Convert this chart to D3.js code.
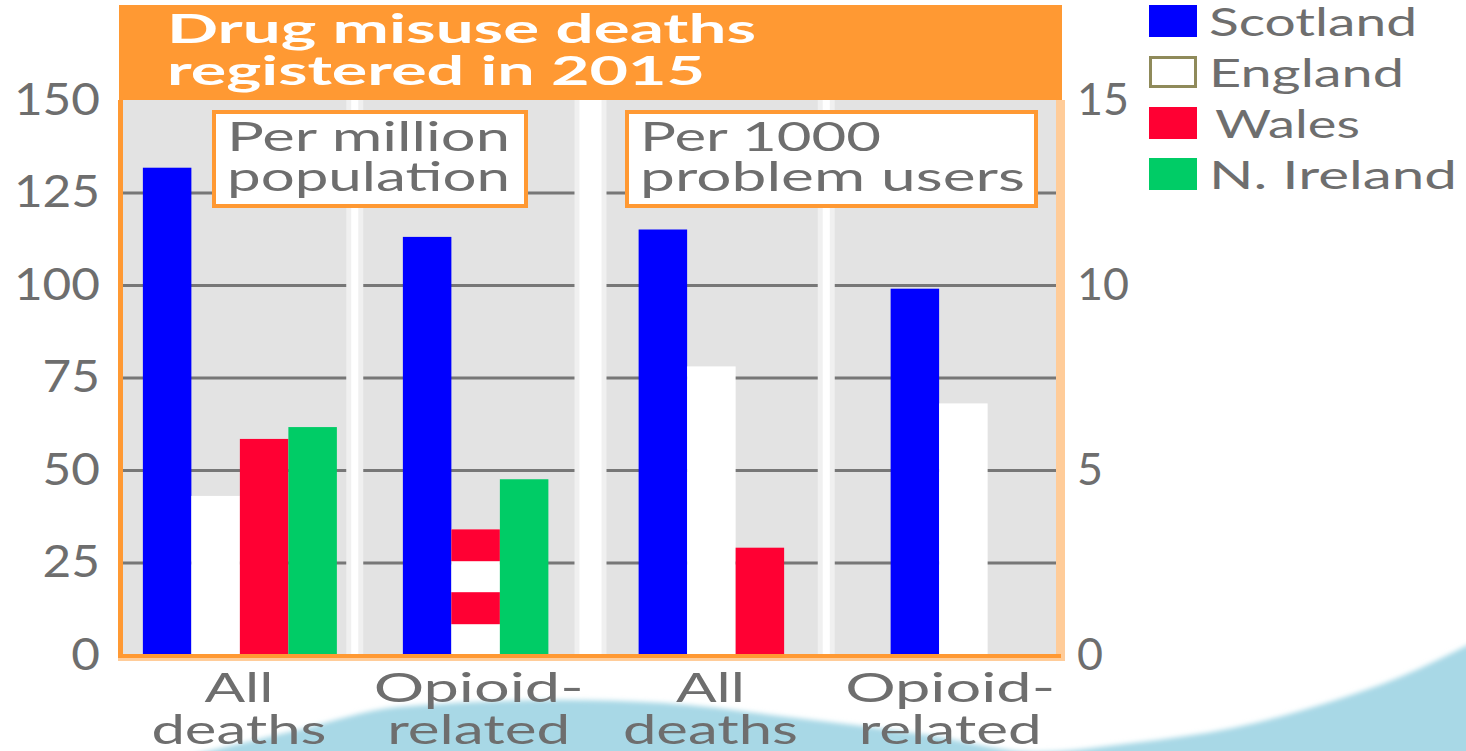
<!DOCTYPE html>
<html>
<head>
<meta charset="utf-8">
<script src="https://cdn.jsdelivr.net/npm/d3@7"></script>
<style>
  html, body { margin: 0; padding: 0; background: #fff; }
  svg { display: block; font-family: Lato, "Open Sans", sans-serif; }
</style>
</head>
<body>
<div id="chart"></div>
<script>
// chart data
var categories = ["All deaths", "Opioid-related", "All deaths", "Opioid-related"];
var categoryUnit = ["million", "million", "users", "users"];   // which y axis the group uses
var countries = ["Scotland", "England", "Wales", "N. Ireland"];
var scotland = [131.7, 113, 11.5, 9.9];
var england = [43, 34, 7.8, 6.8];
var wales = [58.4, 34, 2.9, null];
var nIreland = [61.6, 47.5, null, null];
var englandWalesJoint = [false, true, false, false];   // one striped bar for England & Wales
var leftTicks = [0, 25, 50, 75, 100, 125, 150];
var rightTicks = [0, 5, 10, 15];
var gridTicks = [25, 50, 75, 100, 125];

var countryColors = ["#0000ff", "#ffffff", "#ff0033", "#00cc66"];
var orange = "#ff9933", grey = "#6e6e6e";

var W = 1466, H = 751;
var plot = {left: 119, right: 1062, top: 100, bottom: 655};
var barW = 48.5;

var svg = d3.select("#chart").append("svg")
  .attr("width", W).attr("height", H);

var defs = svg.append("defs");
defs.append("filter").attr("id", "soft")
  .attr("x", "-5%").attr("y", "-20%").attr("width", "110%").attr("height", "140%")
  .append("feGaussianBlur").attr("stdDeviation", 2.5);

// blue wave behind the lower labels (background decoration)
var waveTop = [[170, 760], [298, 730], [398, 707], [564, 700], [663, 703], [796, 718], [928, 735],
  [1035, 752], [1133, 743], [1233, 728], [1333, 701], [1400, 677], [1472, 643]];
svg.append("path")
  .attr("d", d3.area().x(function (d) { return d[0]; }).y0(H + 20)
    .y1(function (d) { return d[1]; }).curve(d3.curveMonotoneX)(waveTop))
  .attr("fill", "#a8d8e6")
  .attr("filter", "url(#soft)");

// scales
var yLeft = d3.scaleLinear().domain([0, 150]).range([plot.bottom, plot.top]);
var yRight = d3.scaleLinear().domain([0, 15]).range([plot.bottom, plot.top]);
var x0 = d3.scaleBand().domain(d3.range(categories.length)).range([plot.left, plot.right]);

// header
svg.append("rect")
  .attr("x", plot.left).attr("y", 5)
  .attr("width", plot.right - plot.left).attr("height", plot.top - 5)
  .attr("fill", orange);

svg.append("text").attr("x", 167).attr("y", 43)
  .attr("textLength", 589).attr("lengthAdjust", "spacingAndGlyphs")
  .style("font-size", "40px").style("font-weight", "bold").attr("fill", "#fff")
  .text("Drug misuse deaths");
svg.append("text").attr("x", 167).attr("y", 85)
  .attr("textLength", 538).attr("lengthAdjust", "spacingAndGlyphs")
  .style("font-size", "40px").style("font-weight", "bold").attr("fill", "#fff")
  .text("registered in 2015");

// plot background
svg.append("rect")
  .attr("x", plot.left + 4).attr("y", plot.top)
  .attr("width", plot.right - plot.left - 10).attr("height", plot.bottom - plot.top)
  .attr("fill", "#e3e3e3");

// gridlines
var grid = svg.append("g")
  .attr("transform", "translate(" + (plot.left + 4) + ",0)")
  .call(d3.axisRight(yLeft).tickValues(gridTicks).tickSize(plot.right - plot.left - 10).tickFormat(""));
grid.select(".domain").remove();
grid.selectAll("line").attr("stroke", "#777").attr("stroke-width", 3);

// white separators between the groups
for (var i = 1; i < categories.length; i++) {
  var sx = x0(i);
  var thick = categoryUnit[i] !== categoryUnit[i - 1];
  var ww = thick ? 22 : 7;
  svg.append("rect").attr("x", sx - ww / 2 - 5).attr("y", plot.top)
    .attr("width", ww + 10).attr("height", plot.bottom - plot.top).attr("fill", "#f0f0f0");
  svg.append("rect").attr("x", sx - ww / 2).attr("y", plot.top)
    .attr("width", ww).attr("height", plot.bottom - plot.top).attr("fill", "#fff");
}

// bars
var series = [scotland, england, wales, nIreland];
categories.forEach(function (cat, gi) {
  var y = categoryUnit[gi] === "million" ? yLeft : yRight;
  var bars = [];
  series.forEach(function (s, si) {
    if (s[gi] == null) return;
    if (si === 2 && englandWalesJoint[gi]) return;
    bars.push({si: si, v: s[gi], joint: si === 1 && englandWalesJoint[gi]});
  });
  var x1 = d3.scaleBand().domain(d3.range(bars.length)).range([0, bars.length * barW]);
  var start = x0(gi) + (x0.bandwidth() - bars.length * barW) / 2 + (gi === 3 ? -5 : 3);

  bars.forEach(function (b, k) {
    var fill = countryColors[b.si];
    if (b.joint) {
      var pid = "stripes" + gi;
      var pat = defs.append("pattern").attr("id", pid)
        .attr("patternUnits", "userSpaceOnUse")
        .attr("x", 0).attr("y", y(b.v))
        .attr("width", 20).attr("height", 63);
      pat.append("rect").attr("width", 20).attr("height", 63).attr("fill", countryColors[1]);
      pat.append("rect").attr("width", 20).attr("height", 32).attr("fill", countryColors[2]);
      fill = "url(#" + pid + ")";
    }
    svg.append("rect")
      .attr("class", "bar")
      .attr("x", start + x1(k))
      .attr("y", y(b.v))
      .attr("width", x1.bandwidth())
      .attr("height", plot.bottom - y(b.v))
      .attr("fill", fill);
  });
});

// plot borders
svg.append("rect").attr("x", plot.left - 1).attr("y", plot.top)
  .attr("width", 5).attr("height", plot.bottom - plot.top + 3).attr("fill", orange);
svg.append("rect").attr("x", plot.right - 6).attr("y", plot.top)
  .attr("width", 9).attr("height", plot.bottom - plot.top + 6).attr("fill", "#ffcc99");
svg.append("rect").attr("x", plot.left - 1).attr("y", plot.bottom + 3)
  .attr("width", plot.right - plot.left + 4).attr("height", 3).attr("fill", "#ffcc99");
svg.append("rect").attr("x", plot.left - 1).attr("y", plot.bottom - 1)
  .attr("width", plot.right - plot.left).attr("height", 4).attr("fill", orange);

// unit boxes
var boxes = [
  {x: 212, w: 316, lines: ["Per million", "population"], lens: [283, 283]},
  {x: 625, w: 413, lines: ["Per 1000", "problem users"], lens: [241, 385]}
];
boxes.forEach(function (b) {
  svg.append("rect").attr("x", b.x + 2).attr("y", 112)
    .attr("width", b.w - 4).attr("height", 94)
    .attr("fill", "#fff").attr("stroke", orange).attr("stroke-width", 4);
  b.lines.forEach(function (t, li) {
    svg.append("text").attr("x", b.x + 15).attr("y", 151 + li * 40)
      .attr("textLength", b.lens[li]).attr("lengthAdjust", "spacingAndGlyphs")
      .style("font-size", "41px").attr("fill", grey)
      .text(t);
  });
});

// y axes
function styleAxis(g, perDigit) {
  g.select(".domain").remove();
  g.selectAll("line").remove();
  g.selectAll("text")
    .style("font-size", "44px").style("font-family", "Lato, sans-serif")
    .attr("fill", grey)
    .attr("textLength", function (d) { return String(d).length * perDigit; })
    .attr("lengthAdjust", "spacingAndGlyphs");
}
svg.append("g").attr("transform", "translate(100,0)")
  .call(d3.axisLeft(yLeft).tickValues(leftTicks).tickSize(0).tickPadding(0))
  .call(styleAxis, 28.7);
svg.append("g").attr("transform", "translate(1077,0)")
  .call(d3.axisRight(yRight).tickValues(rightTicks).tickSize(0).tickPadding(0))
  .call(styleAxis, 26);

// category labels
var labelLines = {"All deaths": ["All", "deaths"], "Opioid-related": ["Opioid-", "related"]};
var labelLens = {"All": 69, "deaths": 175, "Opioid-": 210, "related": 183};
categories.forEach(function (cat, gi) {
  var cx = x0(gi) + x0.bandwidth() / 2 + (cat === "Opioid-related" ? 6 : 2);
  labelLines[cat].forEach(function (t, li) {
    svg.append("text").attr("x", cx).attr("y", 702 + li * 42)
      .attr("text-anchor", "middle")
      .attr("textLength", labelLens[t]).attr("lengthAdjust", "spacingAndGlyphs")
      .style("font-size", "40px").attr("fill", grey)
      .text(t);
  });
});

// legend
var legendLens = [208, 195, 145, 248];
var legend = svg.append("g").attr("transform", "translate(1149,5)");
countries.forEach(function (c, i) {
  var row = legend.append("g").attr("transform", "translate(0," + (i * 51) + ")");
  row.append("rect")
    .attr("x", i === 1 ? 1.5 : 0).attr("y", i === 1 ? 1.5 : 0)
    .attr("width", i === 1 ? 45 : 48).attr("height", i === 1 ? 29 : 32)
    .attr("fill", countryColors[i])
    .attr("stroke", i === 1 ? "#8f8a5a" : "none").attr("stroke-width", 3);
  row.append("text")
    .attr("x", i === 2 ? 66 : 60).attr("y", 31)
    .attr("textLength", legendLens[i]).attr("lengthAdjust", "spacingAndGlyphs")
    .style("font-size", "39px").attr("fill", grey)
    .text(c);
});
</script>
</body>
</html>
